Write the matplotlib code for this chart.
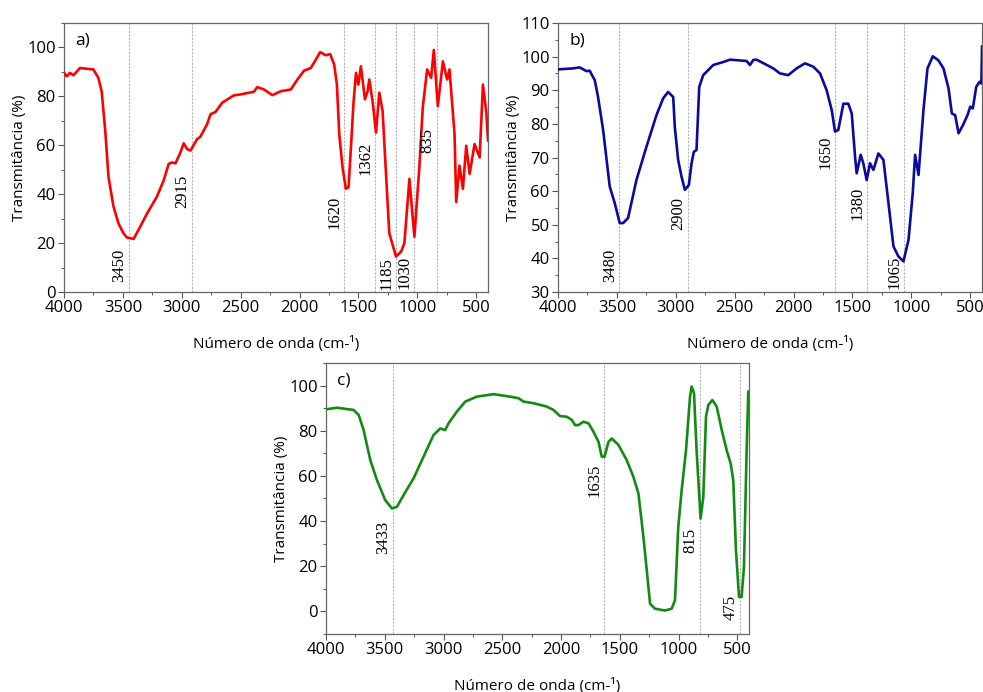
import matplotlib
matplotlib.use("Agg")
import matplotlib.pyplot as plt
from matplotlib.ticker import MultipleLocator
from matplotlib.font_manager import FontProperties

# ---------------- data ----------------
wn_a = [4000, 3977, 3949, 3920, 3864, 3750, 3708, 3680, 3650, 3622, 3580, 3537, 3495, 3466,
        3409, 3353, 3296, 3211, 3154, 3111, 3083, 3054, 3012, 2984, 2955, 2927, 2870, 2842,
        2785, 2756, 2714, 2657, 2558, 2501, 2387, 2359, 2302, 2231, 2160, 2075, 2018, 1962,
        1905, 1862, 1825, 1777, 1740, 1706, 1683, 1663, 1635, 1607, 1584, 1564, 1541, 1521,
        1501, 1479, 1445, 1422, 1408, 1380, 1351, 1323, 1295, 1266, 1238, 1181, 1138, 1110,
        1067, 1047, 1025, 983, 954, 917, 883, 860, 826, 783, 747, 727, 684, 670, 642, 613,
        585, 556, 514, 471, 443, 414, 400]
t_a = [89.6, 88.2, 89.6, 88.6, 91.6, 91.0, 87.5, 82.0, 66.0, 47.0, 35.0, 28.0, 24.0, 22.3,
       21.7, 26.7, 32.0, 39.0, 45.6, 52.4, 53.0, 52.6, 57.0, 60.8, 58.5, 57.8, 62.5, 63.5,
       68.6, 72.7, 73.6, 77.4, 80.4, 80.8, 81.9, 83.8, 82.8, 80.5, 82.1, 82.8, 86.9, 90.5,
       91.6, 95.0, 98.1, 96.8, 97.3, 93.0, 84.8, 64.5, 51.0, 42.2, 42.9, 59.0, 78.0, 89.6,
       84.8, 92.3, 78.8, 82.1, 86.9, 78.0, 65.2, 81.5, 74.0, 48.3, 24.0, 14.5, 16.5, 20.0,
       46.3, 34.8, 22.6, 51.0, 75.4, 91.0, 87.6, 99.0, 76.0, 94.3, 86.9, 91.0, 64.5, 36.8,
       51.7, 42.2, 59.8, 48.3, 60.5, 55.0, 84.8, 73.3, 62.0]

wn_b = [4000, 3872, 3816, 3759, 3731, 3688, 3660, 3617, 3561, 3518, 3476, 3447, 3405, 3334,
        3249, 3164, 3107, 3065, 3022, 3008, 2980, 2951, 2923, 2889, 2866, 2847, 2824, 2801,
        2767, 2682, 2597, 2540, 2399, 2370, 2342, 2314, 2172, 2115, 2045, 1974, 1903, 1832,
        1775, 1719, 1676, 1648, 1620, 1577, 1535, 1506, 1478, 1464, 1430, 1408, 1379, 1351,
        1322, 1280, 1237, 1194, 1152, 1110, 1067, 1024, 988, 968, 939, 897, 863, 818, 770,
        727, 684, 656, 628, 599, 562, 523, 500, 478, 449, 421, 405, 400]
t_b = [96.2, 96.5, 96.8, 95.7, 95.8, 93.0, 88.0, 78.2, 61.4, 56.4, 50.5, 50.5, 52.0, 63.3,
       73.2, 82.6, 87.6, 89.5, 88.0, 79.0, 69.3, 64.3, 60.4, 61.8, 68.3, 71.7, 72.2, 91.0,
       94.5, 97.5, 98.4, 99.1, 98.7, 97.5, 99.0, 99.1, 96.5, 95.0, 94.5, 96.5, 98.0, 97.0,
       95.0, 90.0, 84.1, 77.7, 78.2, 86.0, 86.0, 83.1, 70.3, 65.3, 70.8, 68.3, 63.3, 68.3,
       66.3, 71.2, 69.3, 56.4, 43.6, 40.6, 39.1, 45.5, 59.4, 70.8, 64.8, 84.1, 96.5, 100.1,
       98.9, 96.5, 90.5, 83.1, 82.6, 77.2, 79.6, 82.6, 85.1, 84.6, 91.0, 92.5, 92.0, 103.0]

wn_c = [4000, 3906, 3765, 3722, 3680, 3623, 3566, 3496, 3439, 3396, 3340, 3255, 3170, 3085,
        3028, 2986, 2957, 2886, 2815, 2716, 2574, 2433, 2362, 2319, 2234, 2121, 2064, 2008,
        1951, 1908, 1880, 1852, 1809, 1766, 1724, 1681, 1653, 1630, 1596, 1568, 1511, 1441,
        1384, 1341, 1299, 1270, 1242, 1200, 1115, 1058, 1030, 1002, 973, 936, 902, 888, 868,
        846, 812, 789, 766, 746, 712, 675, 632, 590, 556, 534, 511, 485, 463, 443, 420, 406]
t_c = [89.5, 90.2, 89.2, 87.0, 80.3, 67.0, 58.1, 49.3, 45.6, 46.3, 51.5, 58.9, 68.5, 78.1,
       81.0, 80.3, 83.3, 88.5, 92.9, 95.1, 96.2, 95.1, 94.4, 92.9, 92.2, 90.7, 89.2, 86.5,
       86.2, 84.8, 82.5, 82.5, 84.0, 83.3, 79.6, 75.1, 68.5, 68.5, 75.1, 76.6, 73.7, 67.0,
       59.6, 52.2, 33.1, 18.2, 3.4, 1.2, 0.4, 1.2, 4.9, 37.4, 53.7, 71.4, 95.1, 99.6, 96.6,
       71.4, 41.1, 50.7, 86.2, 91.4, 93.6, 90.7, 80.3, 71.4, 65.5, 58.1, 27.1, 6.4, 6.4,
       19.7, 71.4, 97.3]

peaks_a = [3450, 2915, 1620, 1362, 1185, 1030, 835]
peaks_b = [3480, 2900, 1650, 1380, 1065]
peaks_c = [3433, 1635, 815, 475]
label_y_a = [3.9, 34.5, 25.6, 48.0, 1.0, 1.2, 56.7]
label_y_b = [33.0, 48.5, 66.5, 51.5, 31.0]
label_y_c = [25.5, 50.5, 26.0, -4.0]

panel_labels = ["a)", "b)", "c)"]
xlabel = "Número de onda (cm-¹)"
ylabel = "Transmitância (%)"

plt.rcParams['font.family'] = ['Open Sans', 'DejaVu Sans']
serif = FontProperties(family="Liberation Serif", size=12)

fig = plt.figure(figsize=(9.83, 6.92), dpi=100)

W, H = 983.0, 692.0
def add_ax(l, r, t, b):
    return fig.add_axes([l / W, 1 - b / H, (r - l) / W, (b - t) / H])

ax_a = add_ax(64, 488, 23, 292)
ax_b = add_ax(558, 982, 23, 292)
ax_c = add_ax(326, 749, 363, 634)

specs = [
    (ax_a, wn_a, t_a, "#ff0000", peaks_a, label_y_a, (0, 110), 20, panel_labels[0]),
    (ax_b, wn_b, t_b, "#0a0a9e", peaks_b, label_y_b, (30, 110), 10, panel_labels[1]),
    (ax_c, wn_c, t_c, "#138a13", peaks_c, label_y_c, (-10, 110), 20, panel_labels[2]),
]

for ax, wn, t, col, peaks, ly, ylim, ystep, plab in specs:
    for p in peaks:
        ax.axvline(p, color="#b4b4b4", lw=0.8, ls=(0, (2, 1.2)), zorder=1)
    ax.plot(wn, t, color=col, lw=1.9, zorder=3, solid_joinstyle="round")
    ax.set_xlim(4000, 400)
    ax.set_ylim(*ylim)
    ax.xaxis.set_major_locator(MultipleLocator(500))
    ax.xaxis.set_minor_locator(MultipleLocator(250))
    ax.yaxis.set_major_locator(MultipleLocator(ystep))
    ax.yaxis.set_minor_locator(MultipleLocator(ystep / 2))
    ax.tick_params(which="major", direction="out", length=4, width=0.8,
                   labelsize=12, color="#555555", pad=2)
    ax.tick_params(which="minor", direction="out", length=2.5, width=0.7, color="#555555")
    for s in ax.spines.values():
        s.set_color("#666666")
        s.set_linewidth(0.9)
    ax.set_xlabel(xlabel, fontsize=11, labelpad=14)
    ax.set_ylabel(ylabel, fontsize=11, labelpad=0)
    ax.text(0.027, 0.965, plab, transform=ax.transAxes, fontsize=12.5,
            ha="left", va="top")
    for p, y in zip(peaks, ly):
        ax.annotate(str(p), xy=(p, y), xytext=(-1, 0), textcoords="offset points",
                    rotation=90, ha="right", va="bottom",
                    fontproperties=serif, zorder=4)

fig.savefig("out.png", dpi=100, facecolor="white")
